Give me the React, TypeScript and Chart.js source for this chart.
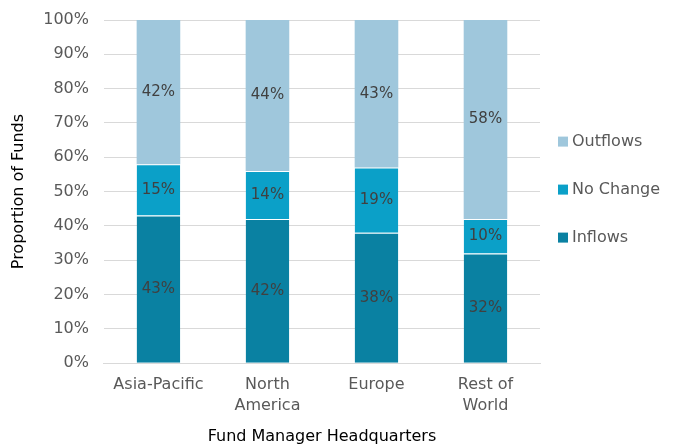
import React, { useEffect, useRef } from "react";
import { Chart, registerables } from "chart.js";

Chart.register(...registerables);

const categories: (string | string[])[] = ["Asia-Pacific", ["North", "America"], "Europe", ["Rest of", "World"]];
const inflows = [43, 42, 38, 32];
const noChange = [15, 14, 19, 10];
const outflows = [42, 44, 43, 58];
const yTicks = [0, 10, 20, 30, 40, 50, 60, 70, 80, 90, 100];

const FONT = "'DejaVu Sans', sans-serif";

const labelPlugin = {
  id: "segLabels",
  afterDatasetsDraw(chart: any) {
    const ctx = chart.ctx;
    ctx.save();
    ctx.font = `15px ${FONT}`;
    ctx.fillStyle = "#404040";
    ctx.textAlign = "center";
    ctx.textBaseline = "middle";
    chart.data.datasets.forEach((ds: any, i: number) => {
      const meta = chart.getDatasetMeta(i);
      meta.data.forEach((el: any, j: number) => {
        const v = ds.data[j];
        const y = (el.y + el.base) / 2;
        ctx.fillText(`${v}%`, el.x, y);
      });
    });
    ctx.restore();
  },
};

const legendPlugin = {
  id: "sideLegend",
  afterDraw(chart: any) {
    const ctx = chart.ctx;
    const area = chart.chartArea;
    const items = chart.data.datasets.map((d: any) => ({ label: d.label, color: d.backgroundColor })).reverse();
    const gap = 48;
    const cy = (area.top + area.bottom) / 2 - 2;
    const x0 = area.right + 18;
    ctx.save();
    ctx.font = `16px ${FONT}`;
    ctx.textBaseline = "middle";
    ctx.textAlign = "left";
    items.forEach((it: any, i: number) => {
      const y = cy + (i - (items.length - 1) / 2) * gap;
      ctx.fillStyle = it.color;
      ctx.fillRect(x0, y - 5, 10, 10);
      ctx.fillStyle = "#595959";
      ctx.fillText(it.label, x0 + 14, y);
    });
    ctx.restore();
  },
};

export default function App() {
  const ref = useRef<HTMLCanvasElement>(null);
  useEffect(() => {
    document.body.style.margin = "0";
    const border = { top: 1, bottom: 0, left: 0, right: 0 };
    const sep = "rgba(255,255,255,0.45)";
    const chart = new Chart(ref.current!, {
      type: "bar",
      data: {
        labels: categories,
        datasets: [
          { label: "Inflows", data: inflows, backgroundColor: "#0a81a2", borderColor: sep, borderWidth: border, borderSkipped: false },
          { label: "No Change", data: noChange, backgroundColor: "#0ba0c8", borderColor: sep, borderWidth: border, borderSkipped: false },
          { label: "Outflows", data: outflows, backgroundColor: "#9fc7dc", borderWidth: 0 },
        ],
      },
      options: {
        animation: false,
        responsive: false,
        layout: { padding: { top: 0, right: 147, left: 8, bottom: 0 } },
        datasets: { bar: { barPercentage: 0.4, categoryPercentage: 1 } },
        plugins: {
          tooltip: { enabled: false },
          legend: { display: false },
        },
        scales: {
          x: {
            stacked: true,
            grid: { display: false, drawTicks: false },
            border: { display: true, color: "#d9d9d9" },
            ticks: { color: "#595959", font: { family: FONT, size: 16, lineHeight: 1.3 }, padding: 11, maxRotation: 0 },
            title: { display: true, text: "Fund Manager Headquarters", color: "#000", font: { family: FONT, size: 16 }, padding: { top: 0, bottom: 0 } },
          },
          y: {
            stacked: true,
            min: 0,
            max: 100,
            afterBuildTicks: (axis: any) => {
              axis.ticks = yTicks.map((v) => ({ value: v }));
            },
            afterFit: (axis: any) => {
              axis.paddingTop = 20;
            },
            grid: { color: "#d9d9d9", drawTicks: false },
            border: { display: false },
            ticks: { color: "#595959", font: { family: FONT, size: 16 }, padding: 15, callback: (v: any) => `${v}%` },
            title: { display: true, text: "Proportion of Funds", color: "#000", font: { family: FONT, size: 16 }, padding: { top: 1, bottom: 0 } },
          },
        },
      },
      plugins: [labelPlugin, legendPlugin],
    } as any);
    return () => chart.destroy();
  }, []);
  return (
    <div style={{ width: 687, height: 446 }}>
      <canvas ref={ref} width={687} height={446} style={{ width: 687, height: 446, display: "block" }} />
    </div>
  );
}
